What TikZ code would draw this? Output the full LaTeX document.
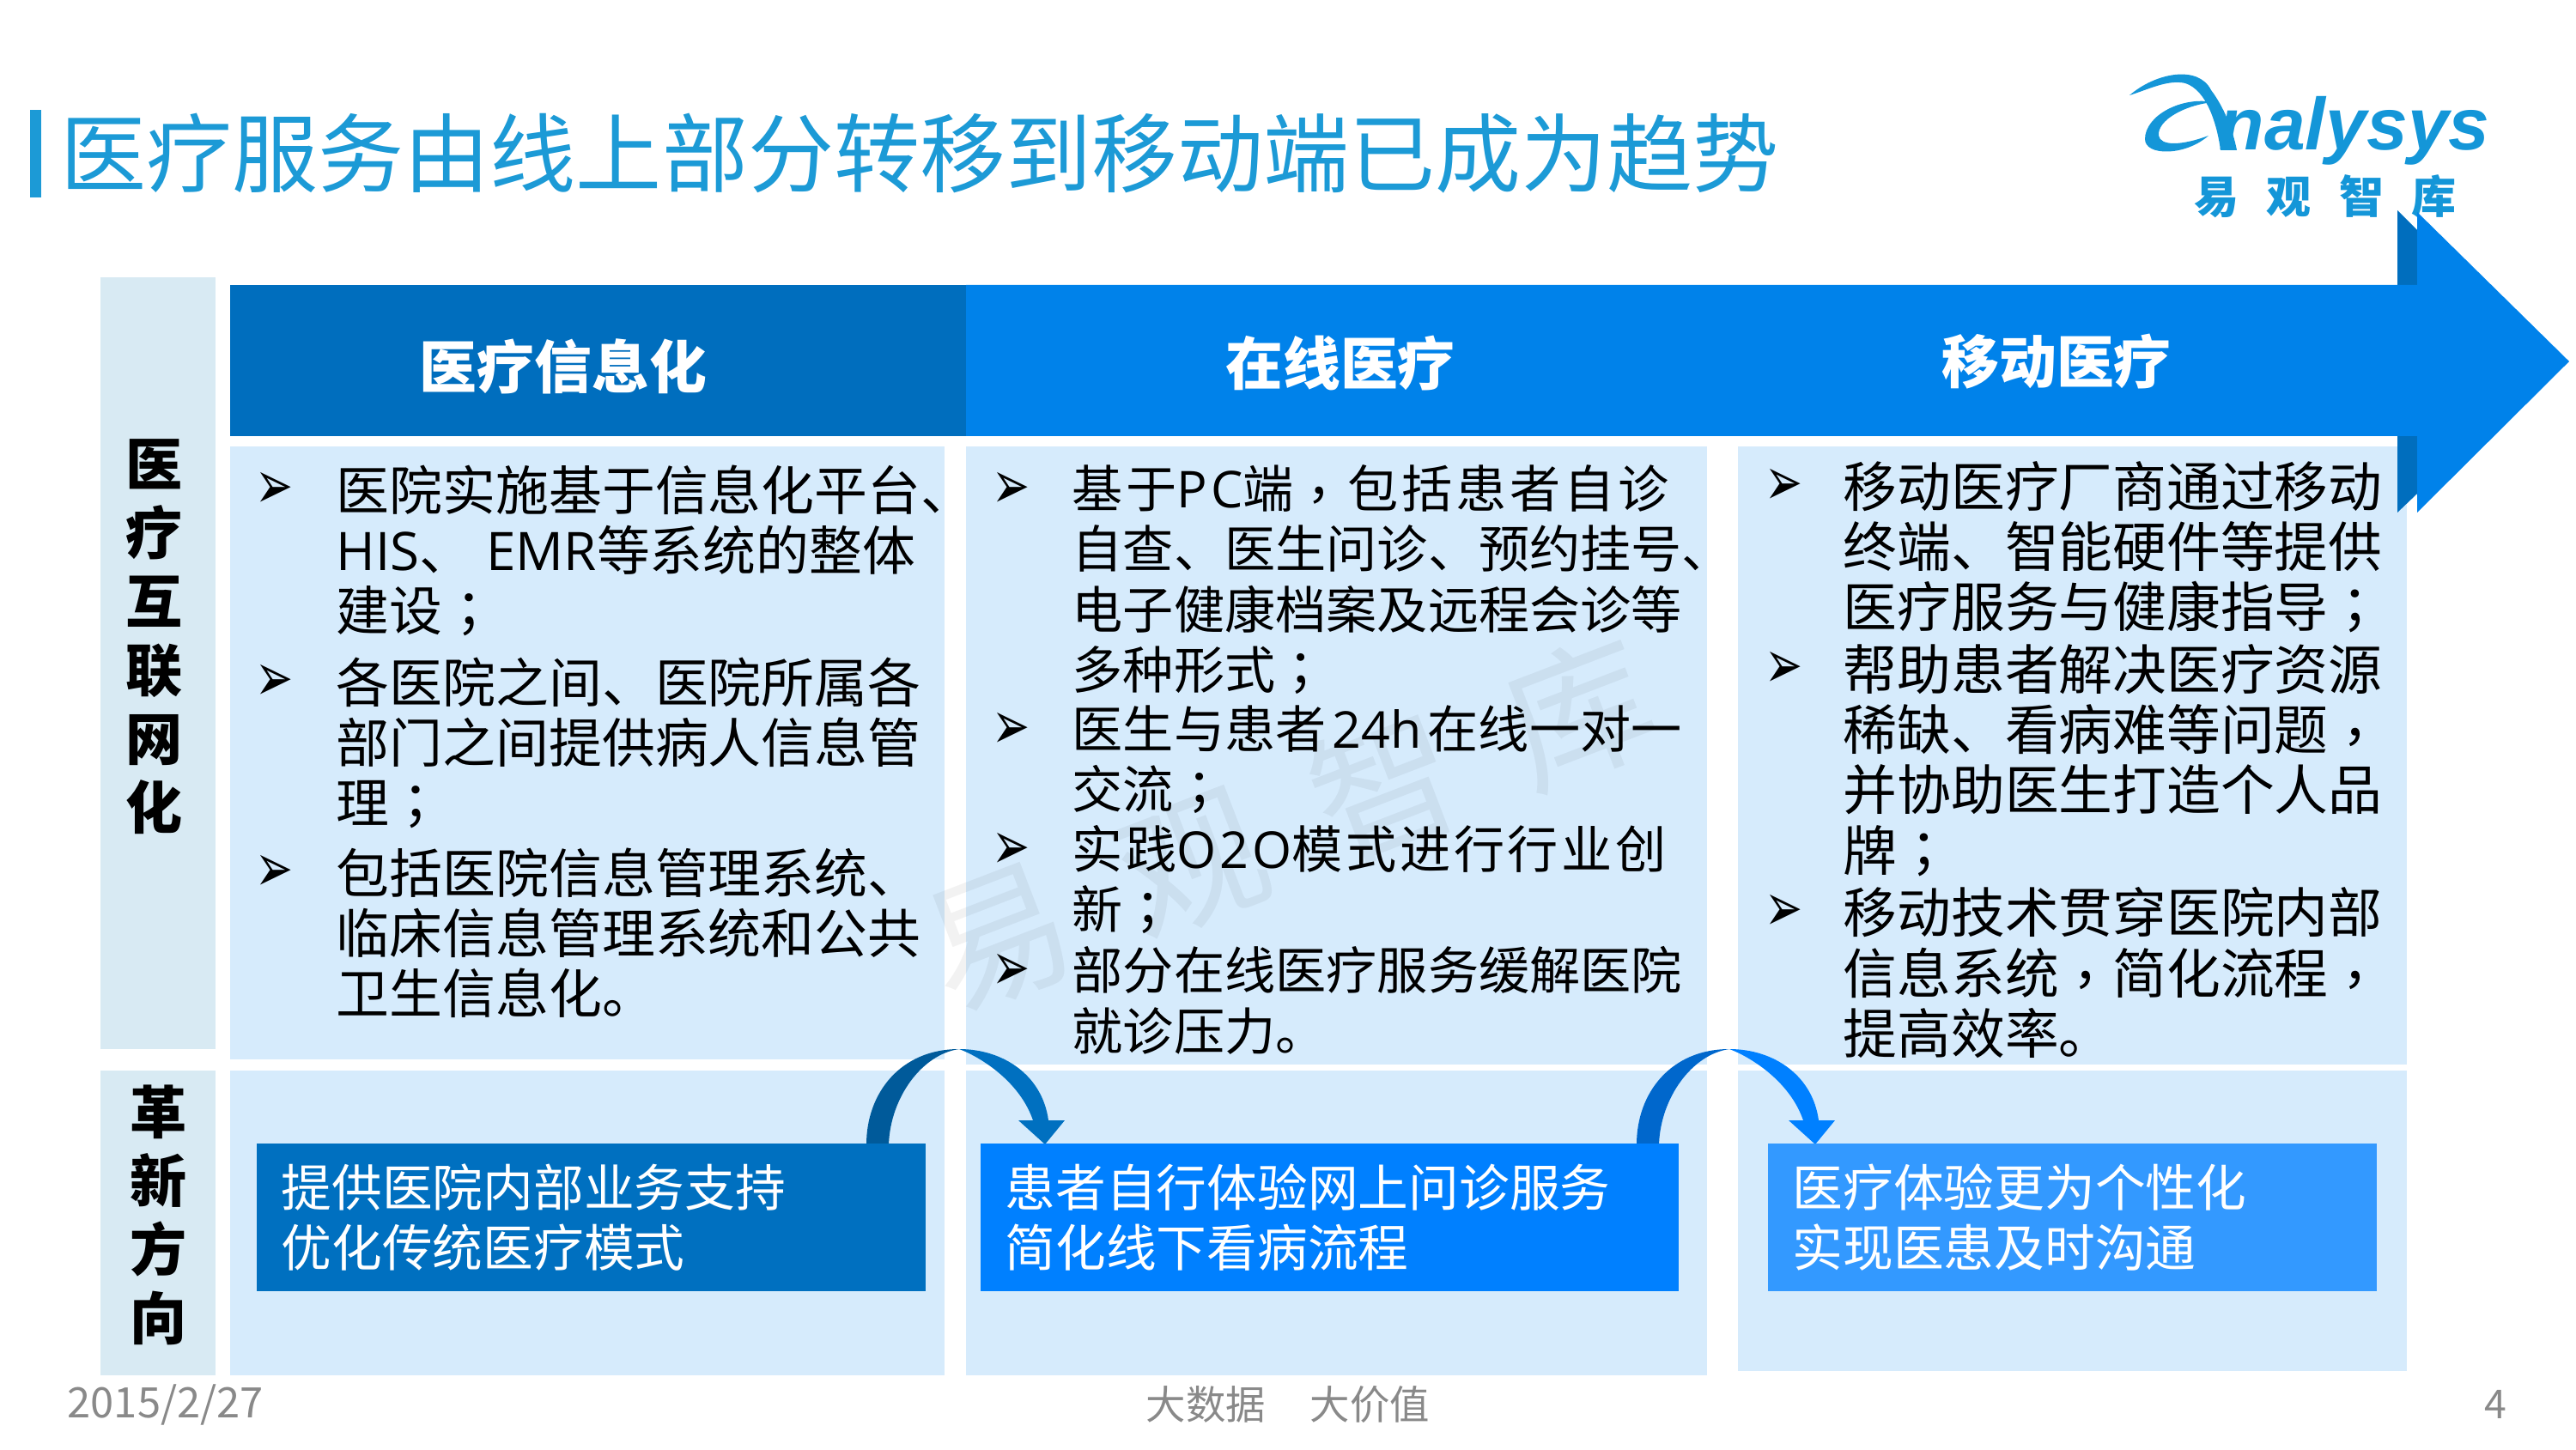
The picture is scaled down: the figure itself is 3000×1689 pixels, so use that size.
\documentclass[tikz,border=0pt]{standalone}
\usepackage{fontspec}
\usepackage{xcolor}
\setmainfont{Noto Sans CJK SC}
\newfontfamily\tcfont{Noto Sans CJK TC}
\newfontfamily\dingfont{DejaVu Sans}
\newfontfamily\logofont{Liberation Sans}
\newfontfamily\latinfont{Open Sans}
\newfontfamily\widefont[LetterSpace=6.3]{Noto Sans CJK SC}
\newfontfamily\widelatin[LetterSpace=6.3]{Open Sans}
\usetikzlibrary{arrows.meta}

\definecolor{titleblue}{HTML}{1C9AD6}
\definecolor{logoblue}{HTML}{1496D8}
\definecolor{banddark}{HTML}{006EBE}
\definecolor{bandblue}{HTML}{0082EA}
\definecolor{paleside}{HTML}{D8EAF3}
\definecolor{palepanel}{HTML}{D6EBFC}
\definecolor{boxone}{HTML}{0070C0}
\definecolor{boxtwo}{HTML}{0080FF}
\definecolor{boxthree}{HTML}{3399FF}
\definecolor{footgray}{HTML}{898989}

\newcommand{\fsemi}{{\tcfont ；}}
\newcommand{\fcomma}{\raisebox{-0.12em}{\tcfont ，}}
\newcommand{\lat}[1]{{\latinfont #1}}
\newcommand{\widelat}[1]{{\widelatin #1}}
\newcommand{\tickmark}{\scalebox{1}[1.5]{➢}}

\tikzset{
    bodyfont/.style={font=\fontsize{16.7}{19.95}\selectfont},
    para/.style={anchor=north west, align=left, inner sep=0pt, text=black, execute at begin node=\strut},
    paraa/.style={para, font=\fontsize{17.6}{19.95}\selectfont},
    parab/.style={para, font=\fontsize{16.83}{19.95}\selectfont},
    parac/.style={para, font=\fontsize{17.85}{19.95}\selectfont},
    tick/.style={font=\dingfont\fontsize{15}{15}\selectfont, inner sep=0pt},
    head/.style={font=\fontsize{19}{19}\selectfont\bfseries, text=white, inner sep=0pt},
    side/.style={font=\fontsize{18.8}{22.76}\selectfont\bfseries, align=center, inner sep=0pt},
    flowbox/.style={bodyfont, anchor=north west, align=left, text=white, inner xsep=0.29cm, inner ysep=0pt, minimum height=1.72cm},
    foot/.style={font=\fontsize{13.2}{13.2}\selectfont, text=footgray, inner sep=0pt}
}

\newcommand{\hoparrow}[3]{
    \begin{scope}[shift={(#1)}]
        \fill[#2] (0,0) .. controls (0,-60) and (40,-111) .. (108,-111)
            .. controls (65,-105) and (28,-55) .. (26,0) -- cycle;
        \fill[#3] (108,-111) .. controls (160,-111) and (205,-80) .. (212,-28)
            -- (231,-28) -- (208,0) -- (177,-28) -- (194,-28)
            .. controls (178,-75) and (130,-103) .. (108,-111) -- cycle;
    \end{scope}
}

\begin{document}
\begin{tikzpicture}[x=0.01cm, y=-0.01cm]
    \useasboundingbox (0,0) rectangle (3000,1689);

    % title
    \fill[titleblue] (35,128) rectangle (48,230);
    \node[font=\fontsize{28.45}{28.45}\selectfont, text=titleblue, anchor=west, inner sep=0pt] (title) at (70,179) {医疗服务由线上部分转移到移动端已成为趋势};

    % logo
    \fill[logoblue] (2480,111) .. controls (2510,85) and (2560,75) .. (2575,105)
        .. controls (2590,125) and (2600,150) .. (2605,175) -- (2586,175)
        .. controls (2582,145) and (2570,105) .. (2545,97)
        .. controls (2525,92) and (2500,105) .. (2480,111) -- cycle;
    \fill[logoblue] (2578,119) .. controls (2540,112) and (2498,135) .. (2498,162)
        .. controls (2498,182) and (2545,182) .. (2572,158)
        .. controls (2540,170) and (2516,170) .. (2514,158)
        .. controls (2512,140) and (2545,122) .. (2578,119) -- cycle;
    \node[font=\logofont\fontsize{24.4}{24.4}\selectfont\bfseries\itshape, text=logoblue, anchor=base west, inner sep=0pt] (logoen) at (2584,175) {nalysys};
    \node[font=\fontsize{14.8}{14.8}\selectfont\bfseries, text=logoblue, inner sep=0pt] (logocn) at (2708,229) {易\hspace{0.32cm}观\hspace{0.32cm}智\hspace{0.32cm}库};

    % side strips
    \fill[paleside] (117,323) rectangle (251,1222);
    \fill[paleside] (117,1247) rectangle (251,1602);
    \node[side] (sideup) at (180,742) {医\\疗\\互\\联\\网\\化};
    \node[side] (sidedown) at (185,1415) {革\\新\\方\\向};

    % panels
    \fill[palepanel] (268,520) rectangle (1100,1234);
    \fill[palepanel] (1125,520) rectangle (1988,1240);
    \fill[palepanel] (2024,520) rectangle (2803,1240);
    \fill[palepanel] (268,1247) rectangle (1100,1602);
    \fill[palepanel] (1125,1247) rectangle (1988,1602);
    \fill[palepanel] (2024,1247) rectangle (2803,1597);

    % watermark
    \node[font=\fontsize{48}{48}\selectfont, text=black, opacity=0.05, rotate=21, inner sep=0pt] (mark) at (1500,960) {易\hspace{0.73cm}观\hspace{0.73cm}智\hspace{0.73cm}库};

    % band arrow
    \fill[banddark] (2792,245) -- (2815,268) -- (2815,575) -- (2792,597) -- cycle;
    \fill[bandblue] (1125,332) -- (2815,332) -- (2815,247) -- (2992,421) -- (2815,597) -- (2815,508) -- (1125,508) -- cycle;
    \fill[banddark] (268,332) rectangle (1125,508);
    \fill[banddark] (2792,508) rectangle (2815,530);
    \node[head] (headone) at (656,427) {医疗信息化};
    \node[head] (headtwo) at (1561,423) {在线医疗};
    \node[head] (headthree) at (2395,421) {移动医疗};

    % first column
    \node[tick] (tickaa) at (320,571) {\tickmark};
    \node[paraa] (textaa) at (391,541) {医院实施基于信息化平台、\\\lat{HIS}、\hspace{0.16cm}\lat{EMR}等系统的整体\\建设\fsemi};
    \node[tick] (tickab) at (320,795) {\tickmark};
    \node[paraa] (textab) at (391,765) {各医院之间、医院所属各\\部门之间提供病人信息管\\理\fsemi};
    \node[tick] (tickac) at (320,1017) {\tickmark};
    \node[paraa] (textac) at (391,987) {包括医院信息管理系统、\\临床信息管理系统和公共\\卫生信息化。};

    % second column
    \node[tick] (tickba) at (1178,571) {\tickmark};
    \node[parab] (textba) at (1248,541) {{\widefont 基于}\widelat{PC}{\widefont 端}\fcomma\hspace{0.04cm}{\widefont 包括患者自诊}\\自查、医生问诊、预约挂号、\\电子健康档案及远程会诊等\\多种形式\fsemi};
    \node[tick] (tickbb) at (1178,851) {\tickmark};
    \node[parab] (textbb) at (1248,821) {医生与患者\hspace{0.07cm}\lat{24h}\hspace{0.07cm}在线一对一\\交流\fsemi};
    \node[tick] (tickbc) at (1178,991) {\tickmark};
    \node[parab] (textbc) at (1248,961) {{\widefont 实践}\widelat{O2O}{\widefont 模式进行行业创}\\新\fsemi};
    \node[tick] (tickbd) at (1178,1132) {\tickmark};
    \node[parab] (textbd) at (1248,1102) {部分在线医疗服务缓解医院\\就诊压力。};

    % third column
    \node[tick] (tickca) at (2078,567) {\tickmark};
    \node[parac] (textca) at (2146,537) {移动医疗厂商通过移动\\终端、智能硬件等提供\\医疗服务与健康指导\fsemi};
    \node[tick] (tickcb) at (2078,780) {\tickmark};
    \node[parac] (textcb) at (2146,750) {帮助患者解决医疗资源\\稀缺、看病难等问题\fcomma\\并协助医生打造个人品\\牌\fsemi};
    \node[tick] (tickcc) at (2078,1063) {\tickmark};
    \node[parac] (textcc) at (2146,1033) {移动技术贯穿医院内部\\信息系统\fcomma 简化流程\fcomma\\提高效率。};

    % hops between the lower boxes
    \coordinate (hopone) at (1009,1333);
    \coordinate (hoptwo) at (1906,1333);
    \hoparrow{hopone}{boxone!80!black}{boxone}
    \hoparrow{hoptwo}{boxtwo!80!black}{boxtwo}

    \node[flowbox, fill=boxone, text width=7.21cm] (boxa) at (298,1331) {提供医院内部业务支持\\优化传统医疗模式};
    \node[flowbox, fill=boxtwo, text width=7.55cm] (boxb) at (1141,1331) {患者自行体验网上问诊服务\\简化线下看病流程};
    \node[flowbox, fill=boxthree, text width=6.51cm] (boxc) at (2058,1331) {医疗体验更为个性化\\实现医患及时沟通};

    % footer
    \node[foot, anchor=west, font=\fontsize{13.9}{13.9}\selectfont] (date) at (78,1636) {2015/2/27};
    \node[foot] (slogan) at (1500,1636) {大数据\hspace{0.52cm}大价值};
    \node[foot] (page) at (2906,1636) {4};
\end{tikzpicture}
\end{document}
